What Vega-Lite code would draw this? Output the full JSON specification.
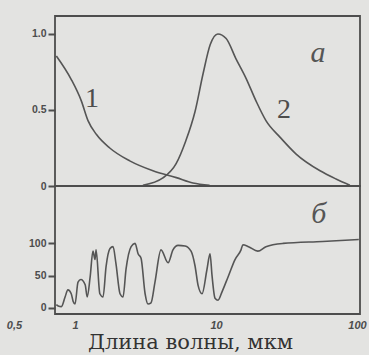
{
  "$schema": "https://vega.github.io/schema/vega-lite/v6.json",
  "background": "#e3e3e1",
  "padding": {"left": 5, "top": 15, "right": 5, "bottom": 2},
  "spacing": 0,
  "bounds": "flush",
  "config": {
    "view": {"stroke": "#4d4d4d", "strokeWidth": 1.8},
    "axis": {
      "grid": false,
      "domain": false,
      "labelColor": "#4d4d4d",
      "labelFont": "Liberation Sans",
      "labelFontWeight": "bold",
      "labelFontSize": 10.5,
      "title": null
    }
  },
  "datasets": {
    "curves": [
      {"curve": "1", "lambda": 0.737, "value": 0.855},
      {"curve": "1", "lambda": 0.941, "value": 0.70},
      {"curve": "1", "lambda": 1.108, "value": 0.56},
      {"curve": "1", "lambda": 1.236, "value": 0.43},
      {"curve": "1", "lambda": 1.416, "value": 0.34},
      {"curve": "1", "lambda": 1.763, "value": 0.25},
      {"curve": "1", "lambda": 2.444, "value": 0.165},
      {"curve": "1", "lambda": 3.57, "value": 0.10},
      {"curve": "1", "lambda": 5.23, "value": 0.055},
      {"curve": "1", "lambda": 6.86, "value": 0.02},
      {"curve": "1", "lambda": 9.0, "value": 0.005},
      {"curve": "2", "lambda": 3.03, "value": 0.005},
      {"curve": "2", "lambda": 4.2, "value": 0.053},
      {"curve": "2", "lambda": 5.2, "value": 0.145},
      {"curve": "2", "lambda": 6.1, "value": 0.296},
      {"curve": "2", "lambda": 7.1, "value": 0.49},
      {"curve": "2", "lambda": 8.1, "value": 0.74},
      {"curve": "2", "lambda": 9.1, "value": 0.93},
      {"curve": "2", "lambda": 10.3, "value": 1.0},
      {"curve": "2", "lambda": 11.8, "value": 0.97},
      {"curve": "2", "lambda": 13.8, "value": 0.84},
      {"curve": "2", "lambda": 16.3, "value": 0.71},
      {"curve": "2", "lambda": 19.2, "value": 0.56},
      {"curve": "2", "lambda": 22.6, "value": 0.43},
      {"curve": "2", "lambda": 28.5, "value": 0.32},
      {"curve": "2", "lambda": 37, "value": 0.21},
      {"curve": "2", "lambda": 54.7, "value": 0.10},
      {"curve": "2", "lambda": 71, "value": 0.046},
      {"curve": "2", "lambda": 89, "value": 0.005}
    ],
    "transmission": [
      {"lambda": 0.737, "value": 5},
      {"lambda": 0.76, "value": 3},
      {"lambda": 0.80, "value": 2},
      {"lambda": 0.85, "value": 17},
      {"lambda": 0.89, "value": 28},
      {"lambda": 0.94, "value": 22},
      {"lambda": 0.97, "value": 10},
      {"lambda": 1.0, "value": 6},
      {"lambda": 1.05, "value": 40},
      {"lambda": 1.10, "value": 44},
      {"lambda": 1.18, "value": 36},
      {"lambda": 1.22, "value": 17},
      {"lambda": 1.28, "value": 48},
      {"lambda": 1.34, "value": 88},
      {"lambda": 1.386, "value": 75},
      {"lambda": 1.41, "value": 90},
      {"lambda": 1.50, "value": 22},
      {"lambda": 1.58, "value": 17},
      {"lambda": 1.66, "value": 64},
      {"lambda": 1.77, "value": 92},
      {"lambda": 1.86, "value": 95},
      {"lambda": 1.95, "value": 69},
      {"lambda": 2.085, "value": 22},
      {"lambda": 2.19, "value": 17},
      {"lambda": 2.30, "value": 60},
      {"lambda": 2.50, "value": 95},
      {"lambda": 2.665, "value": 100},
      {"lambda": 2.80, "value": 84},
      {"lambda": 2.94, "value": 77},
      {"lambda": 3.14, "value": 22},
      {"lambda": 3.29, "value": 6},
      {"lambda": 3.46, "value": 8},
      {"lambda": 3.69, "value": 40},
      {"lambda": 4.07, "value": 90},
      {"lambda": 4.57, "value": 70},
      {"lambda": 4.95, "value": 90},
      {"lambda": 5.38, "value": 97},
      {"lambda": 6.03, "value": 96},
      {"lambda": 6.65, "value": 88},
      {"lambda": 7.10, "value": 65},
      {"lambda": 7.46, "value": 35},
      {"lambda": 7.96, "value": 22},
      {"lambda": 8.63, "value": 60},
      {"lambda": 9.07, "value": 84},
      {"lambda": 9.37, "value": 50},
      {"lambda": 9.84, "value": 15},
      {"lambda": 10.33, "value": 12},
      {"lambda": 11.03, "value": 25},
      {"lambda": 12.17, "value": 48},
      {"lambda": 13.64, "value": 75},
      {"lambda": 15.04, "value": 90},
      {"lambda": 15.5, "value": 98},
      {"lambda": 17.0, "value": 95},
      {"lambda": 19.8, "value": 88},
      {"lambda": 22.6, "value": 95},
      {"lambda": 29.9, "value": 100},
      {"lambda": 57, "value": 103},
      {"lambda": 103, "value": 106}
    ],
    "numbers": [
      {"lambda": 1.32, "value": 0.57, "label": "1"},
      {"lambda": 30.4, "value": 0.50, "label": "2"}
    ],
    "letterTop": [
      {"lambda": 52.8, "value": 0.875, "label": "а"}
    ],
    "letterBottom": [
      {"lambda": 53.5, "value": 145, "label": "б"}
    ]
  },
  "vconcat": [
    {
      "width": 305,
      "height": 170,
      "layer": [
        {
          "data": {"name": "curves"},
          "mark": {"type": "line", "color": "#555555", "strokeWidth": 1.6, "clip": true, "interpolate": "monotone"},
          "encoding": {
            "x": {"field": "lambda", "type": "quantitative",
              "scale": {"type": "log", "domain": [0.721, 105], "nice": false}, "axis": null},
            "y": {"field": "value", "type": "quantitative",
              "scale": {"domain": [0, 1.118], "nice": false, "zero": false},
              "axis": {"orient": "left", "values": [0, 0.5, 1], "labelExpr": "datum.value == 0 ? '0' : format(datum.value, '.1f')", "ticks": true, "tickColor": "#4d4d4d", "tickWidth": 2, "tickSize": 7, "zindex": 1, "labelPadding": 2, "title": null}},
            "detail": {"field": "curve", "type": "nominal"}
          }
        },
        {
          "data": {"name": "numbers"},
          "mark": {"type": "text", "font": "Liberation Serif", "fontSize": 28, "color": "#4d4d4d", "align": "center", "baseline": "middle"},
          "encoding": {
            "x": {"field": "lambda", "type": "quantitative", "axis": null},
            "y": {"field": "value", "type": "quantitative", "axis": null},
            "text": {"field": "label", "type": "nominal"}
          }
        },
        {
          "data": {"name": "letterTop"},
          "mark": {"type": "text", "font": "Liberation Serif", "fontStyle": "italic", "fontSize": 30, "color": "#555555", "align": "center", "baseline": "middle"},
          "encoding": {
            "x": {"field": "lambda", "type": "quantitative", "axis": null},
            "y": {"field": "value", "type": "quantitative", "axis": null},
            "text": {"field": "label", "type": "nominal"}
          }
        }
      ],
      "resolve": {"axis": {"x": "independent", "y": "independent"}}
    },
    {
      "width": 305,
      "height": 128,
      "layer": [
        {
          "data": {"name": "transmission"},
          "mark": {"type": "line", "color": "#555555", "strokeWidth": 1.6, "clip": true, "interpolate": "monotone"},
          "encoding": {
            "x": {"field": "lambda", "type": "quantitative",
              "scale": {"type": "log", "domain": [0.721, 105], "nice": false},
              "axis": {"orient": "bottom", "values": [0.721, 1, 10, 100],
                "labelExpr": "datum.value < 0.9 ? '0,5' : format(datum.value, 'd')",
                "labelOffset": {"condition": {"test": "datum.value < 0.9", "value": -41}, "value": 0},
                "ticks": false, "labelPadding": 5, "labelFlush": false, "labelOverlap": false, "labelBound": false,
                "labelFontStyle": "italic", "labelFontSize": 11,
                "title": "Длина волны, мкм", "titleFont": "DejaVu Serif", "titleFontSize": 21, "titleFontWeight": "normal",
                "titleColor": "#333333", "titlePadding": 1, "titleX": 135, "titleAlign": "center"}},
            "y": {"field": "value", "type": "quantitative",
              "scale": {"domain": [-9.4, 189], "nice": false, "zero": false},
              "axis": {"orient": "left", "values": [0, 50, 100], "ticks": true, "tickColor": "#4d4d4d", "tickWidth": 2, "tickSize": 7, "zindex": 1, "labelPadding": 2, "title": null}}
          }
        },
        {
          "data": {"name": "letterBottom"},
          "mark": {"type": "text", "font": "Liberation Serif", "fontStyle": "italic", "fontSize": 30, "color": "#555555", "align": "center", "baseline": "middle"},
          "encoding": {
            "x": {"field": "lambda", "type": "quantitative", "axis": null},
            "y": {"field": "value", "type": "quantitative", "axis": null},
            "text": {"field": "label", "type": "nominal"}
          }
        }
      ],
      "resolve": {"axis": {"x": "independent", "y": "independent"}}
    }
  ]
}
